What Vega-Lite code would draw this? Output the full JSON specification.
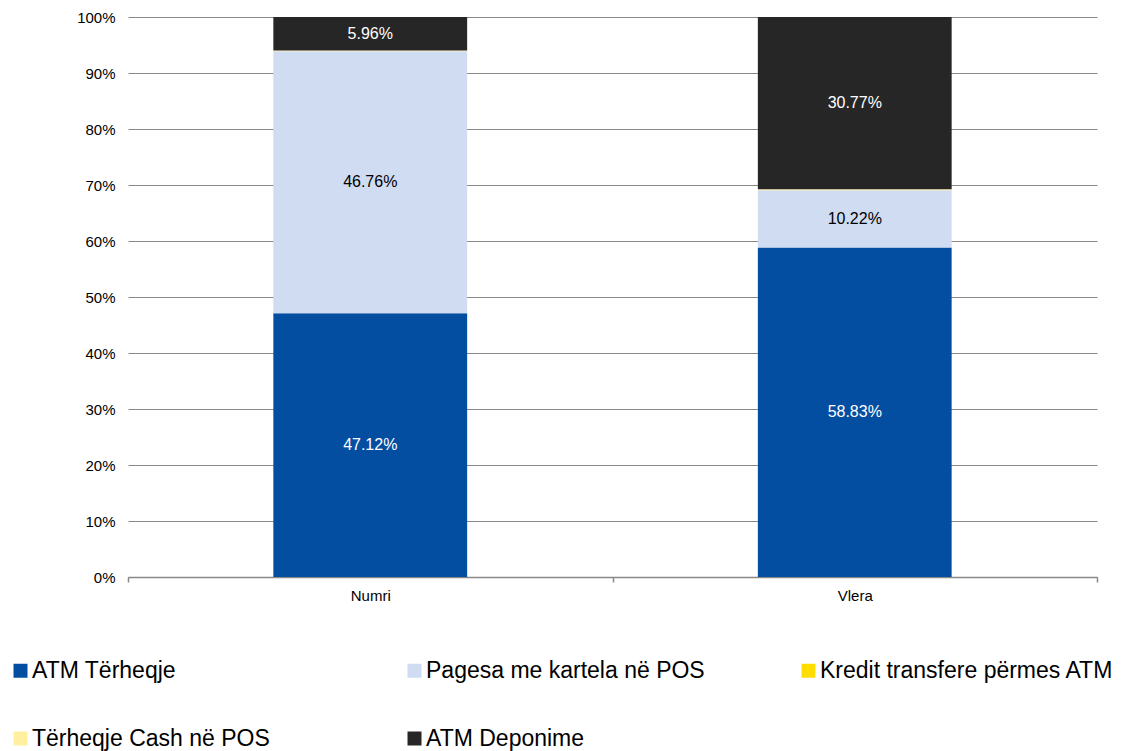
{
  "$schema": "https://vega.github.io/schema/vega-lite/v6.json",
  "width": 969,
  "height": 560,
  "autosize": "none",
  "padding": {"left": 128, "top": 17, "right": 32, "bottom": 174},
  "config": {
    "font": "Liberation Sans",
    "view": {"stroke": null},
    "axis": {"labelFont": "Liberation Sans", "labelColor": "#000000"}
  },
  "data": {
    "values": [
      {"cat": "Numri", "series": "ATM Tërheqje", "value": 47.12},
      {"cat": "Numri", "series": "Pagesa me kartela në POS", "value": 46.76},
      {"cat": "Numri", "series": "Kredit transfere përmes ATM", "value": 0.01},
      {"cat": "Numri", "series": "Tërheqje Cash në POS", "value": 0.15},
      {"cat": "Numri", "series": "ATM Deponime", "value": 5.96},
      {"cat": "Vlera", "series": "ATM Tërheqje", "value": 58.83},
      {"cat": "Vlera", "series": "Pagesa me kartela në POS", "value": 10.22},
      {"cat": "Vlera", "series": "Kredit transfere përmes ATM", "value": 0.02},
      {"cat": "Vlera", "series": "Tërheqje Cash në POS", "value": 0.16},
      {"cat": "Vlera", "series": "ATM Deponime", "value": 30.77}
    ]
  },
  "transform": [
    {"calculate": "indexof(['ATM Tërheqje','Pagesa me kartela në POS','Kredit transfere përmes ATM','Tërheqje Cash në POS','ATM Deponime'], datum.series)", "as": "ord"},
    {"stack": "value", "groupby": ["cat"], "sort": [{"field": "ord", "order": "ascending"}], "offset": "normalize", "as": ["y0", "y1"]},
    {"calculate": "(datum.y0 + datum.y1) / 2", "as": "ymid"},
    {"calculate": "format(datum.value, '.2f') + '%'", "as": "label"}
  ],
  "encoding": {
    "x": {
      "field": "cat",
      "type": "nominal",
      "sort": ["Numri", "Vlera"],
      "scale": {"paddingInner": 0, "paddingOuter": 0},
      "axis": {
        "title": null,
        "labelAngle": 0,
        "labelFontSize": 15,
        "labelPadding": 6,
        "domainColor": "#888888",
        "domainWidth": 1.5,
        "tickColor": "#888888",
        "tickWidth": 1.5,
        "tickSize": 5,
        "tickBand": "extent",
        "grid": false
      }
    }
  },
  "layer": [
    {
      "mark": {"type": "bar", "width": {"band": 0.4}},
      "encoding": {
        "y": {
          "field": "y0",
          "type": "quantitative",
          "scale": {"domain": [0, 1]},
          "axis": {
            "title": null,
            "format": ".0%",
            "values": [0, 0.1, 0.2, 0.3, 0.4, 0.5, 0.6, 0.7, 0.8, 0.9, 1],
            "labelFontSize": 15,
            "labelPadding": 13,
            "domain": false,
            "ticks": false,
            "gridColor": "#888888",
            "gridWidth": 1.2
          }
        },
        "y2": {"field": "y1"},
        "color": {
          "field": "series",
          "type": "nominal",
          "sort": ["ATM Tërheqje", "Pagesa me kartela në POS", "Kredit transfere përmes ATM", "Tërheqje Cash në POS", "ATM Deponime"],
          "scale": {
            "domain": ["ATM Tërheqje", "Pagesa me kartela në POS", "Kredit transfere përmes ATM", "Tërheqje Cash në POS", "ATM Deponime"],
            "range": ["#044EA2", "#D0DCF2", "#FFDD00", "#FFF0A0", "#262626"]
          },
          "legend": {
            "title": null,
            "orient": "none",
            "legendX": -119,
            "legendY": 642,
            "direction": "horizontal",
            "columns": 3,
            "gridAlign": "all",
            "symbolType": "square",
            "symbolSize": 196,
            "symbolStrokeWidth": 0,
            "labelFontSize": 23,
            "labelOffset": 0,
            "labelColor": "#000000",
            "labelLimit": 500,
            "columnPadding": 77,
            "rowPadding": 44
          }
        }
      }
    },
    {
      "transform": [{"filter": "datum.value > 1"}],
      "mark": {"type": "text", "fontSize": 16},
      "encoding": {
        "y": {"field": "ymid", "type": "quantitative"},
        "text": {"field": "label"},
        "color": {
          "condition": {"test": "datum.series === 'Pagesa me kartela në POS'", "value": "#000000"},
          "value": "#FFFFFF"
        }
      }
    }
  ]
}
